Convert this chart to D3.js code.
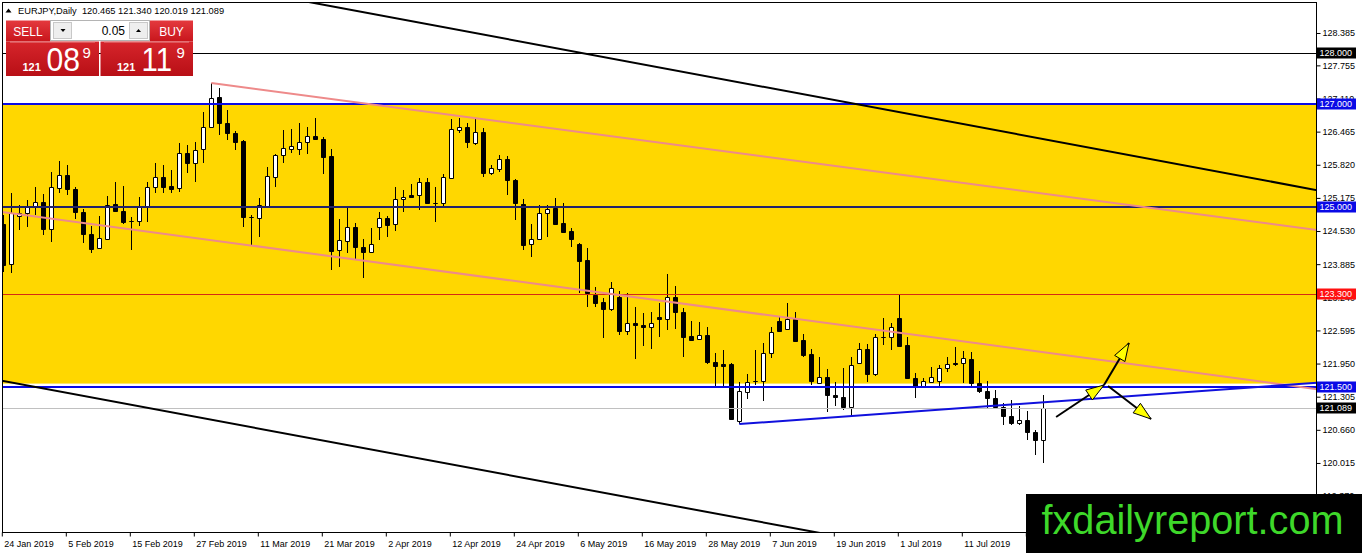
<!DOCTYPE html>
<html><head><meta charset="utf-8">
<script src="https://cdn.jsdelivr.net/npm/d3@7"></script>
<style>
html,body{margin:0;padding:0;background:#fff;overflow:hidden;}
svg{display:block;}
text{font-family:"Liberation Sans",Arial,sans-serif;}
</style></head><body>
<svg id="c" width="1362" height="553"></svg>
<script>
// ---------------- DATA ----------------
const symbolTitle = "EURJPY,Daily";
const lastOHLC = ["120.465","121.340","120.019","121.089"];

const opens = [124.666,123.888,124.822,124.875,125.003,125.095,124.569,125.367,125.620,125.348,
124.900,124.472,124.199,124.380,125.056,124.919,124.724,124.725,125.023,125.387,
125.587,125.406,125.367,126.049,125.860,126.126,126.561,127.145,126.639,126.444,
126.282,124.808,124.783,125.017,125.587,126.010,126.132,126.132,126.263,126.380,
126.315,125.990,124.160,124.341,124.608,124.225,124.127,124.614,124.783,124.666,
125.153,125.231,125.231,125.484,125.085,125.075,125.568,126.496,126.555,126.249,
126.463,125.659,125.737,125.932,125.523,125.056,124.277,124.374,124.881,124.978,
124.686,124.530,124.277,123.966,123.284,123.154,123.012,123.251,122.589,122.739,
122.700,122.667,122.862,122.811,123.245,122.959,122.486,122.434,122.506,121.986,
121.941,121.941,120.837,121.402,121.611,121.616,122.161,122.784,122.617,122.811,
122.408,122.136,121.565,121.694,121.338,121.305,121.098,121.966,122.227,121.746,
122.470,122.472,122.831,122.311,121.663,121.519,121.596,121.616,121.857,121.966,
121.955,122.033,121.565,121.415,121.273,121.110,120.929,120.798,120.851,120.623,
120.465];
const highs = [124.842,125.276,125.036,125.134,125.393,125.250,125.679,125.893,125.815,125.387,
124.958,124.627,124.822,125.212,125.484,125.406,124.808,125.198,125.484,125.860,
125.815,125.718,126.249,126.204,126.269,126.847,127.411,127.314,126.886,126.483,
126.300,124.842,125.173,125.776,126.030,126.496,126.516,126.633,126.561,126.730,
126.366,126.126,124.764,124.978,124.686,124.374,124.589,124.906,124.822,125.387,
125.328,125.445,125.562,125.562,125.387,125.640,126.710,126.730,126.633,126.710,
126.535,125.815,126.010,125.990,125.542,125.153,124.666,125.036,125.036,125.173,
125.075,124.589,124.290,124.199,123.446,123.226,123.543,123.368,123.329,123.051,
122.934,122.953,123.134,123.693,123.460,123.031,122.778,122.759,122.667,122.161,
122.214,121.961,121.596,121.746,122.214,122.356,122.667,122.862,123.134,122.959,
122.525,122.233,122.077,121.844,121.596,121.863,122.077,122.350,122.330,122.525,
122.831,122.745,123.284,122.472,121.771,121.669,121.888,121.922,122.083,122.266,
122.200,122.181,121.805,121.616,121.435,121.176,121.241,121.124,121.032,120.656,
121.340];
const lows = [123.732,123.718,124.550,124.608,124.842,124.452,124.316,125.276,125.231,124.764,
124.297,124.108,124.180,124.355,124.906,124.666,124.160,124.627,124.711,125.270,
125.270,125.276,125.295,125.659,125.490,125.854,126.535,126.399,126.302,126.107,
124.614,124.238,124.419,125.003,125.393,125.860,126.054,126.010,126.029,126.302,
125.634,123.771,123.835,124.102,123.985,123.615,124.102,124.355,124.419,124.536,
124.906,125.173,124.939,125.056,124.711,124.997,125.549,126.438,126.146,126.204,
125.587,125.620,125.685,125.231,124.744,124.160,124.030,124.360,124.419,124.647,
124.497,124.225,123.323,123.056,123.056,122.447,122.979,122.506,122.506,122.038,
122.292,122.233,122.472,122.603,122.617,122.083,122.400,122.408,121.941,121.513,
121.513,120.850,120.773,121.254,121.532,121.227,122.058,122.580,122.603,122.375,
122.083,121.532,121.552,121.013,121.124,121.045,120.929,121.941,121.596,121.708,
122.311,122.214,122.278,121.650,121.273,121.499,121.565,121.468,121.791,121.902,
121.565,121.468,121.371,121.079,121.098,120.754,120.754,120.754,120.462,120.170,
120.019];
const closes = [123.868,124.881,124.881,125.003,125.095,124.569,125.387,125.620,125.348,124.900,
124.472,124.180,124.394,125.036,124.919,124.711,124.720,125.023,125.387,125.587,
125.393,125.348,126.049,125.860,126.107,126.561,127.119,126.633,126.438,126.269,
124.808,124.800,125.036,125.601,126.010,126.146,126.185,126.263,126.380,126.315,
125.977,124.147,124.355,124.608,124.219,124.127,124.277,124.783,124.647,125.153,
125.198,125.192,125.484,125.081,125.078,125.581,126.516,126.555,126.269,126.463,
125.659,125.757,125.932,125.523,125.075,124.258,124.374,124.881,124.958,124.666,
124.517,124.374,123.952,123.323,123.134,123.012,123.421,122.589,122.739,122.700,
122.667,122.739,122.817,123.245,122.959,122.472,122.408,122.506,121.986,121.902,
121.902,120.864,121.421,121.596,121.618,122.161,122.570,122.589,122.811,122.395,
122.116,121.616,121.694,121.338,121.293,121.098,121.922,122.227,121.746,122.472,
122.476,122.656,122.292,121.663,121.499,121.610,121.682,121.857,121.941,121.941,
122.052,121.565,121.415,121.273,121.110,120.929,120.798,120.851,120.623,120.465,
121.089];

const dateTickIndex = [0,8,16,24,32,40,48,56,64,72,80,88,96,104,112,120,128];
const dateTickLabels = ["24 Jan 2019","5 Feb 2019","15 Feb 2019","27 Feb 2019","11 Mar 2019",
"21 Mar 2019","2 Apr 2019","12 Apr 2019","24 Apr 2019","6 May 2019","16 May 2019",
"28 May 2019","7 Jun 2019","19 Jun 2019","1 Jul 2019","11 Jul 2019","23 Jul 2019"];

const priceTicks = [128.385,127.755,127.110,126.465,125.820,125.175,124.530,123.885,
123.240,122.595,121.950,121.305,120.660,120.015,119.370];

const levelPrices = [128.000,127.000,125.000,123.300,121.500,121.089];
const zoneTop = 127.000, zoneBottom = 121.560;

// line objects: [barIndex, price] endpoints
const channelUpper = [[30,129.226],[165,125.303]];
const channelLower = [[-1,121.639],[110,118.423]];
const pinkUpper = [[26,127.411],[165,124.532]];
const pinkLower = [[-1,124.920],[165,121.435]];
const supportLine = [[92,120.773],[165,121.586]];
const arrowLines = [
  [[131.6,120.909],[137.59,121.532]],
  [[137.59,121.532],[140.71,122.350]],
  [[138.09,121.513],[143.47,120.870]]
];

const sellPrice = ["121","08","9"];
const buyPrice  = ["121","11","9"];
const lotSize = "0.05";
const logoText = "fxdailyreport.com";

// ---------------- LAYOUT ----------------
const W = 1362, H = 553;
const PL = 2.5, PT = 2.5, PR = 1316.5, PB = 532.5;
const svg = d3.select("#c");

const x = d3.scaleLinear().domain([0,130]).range([3.3,1043.3]);
const y = d3.scaleLinear().domain([118.671,128.969]).range([532,3]);

svg.append("rect").attr("width",W).attr("height",H).attr("fill","#fff");

const defs = svg.append("defs");
defs.append("clipPath").attr("id","plotclip").append("rect")
  .attr("x",PL).attr("y",PT).attr("width",PR-PL).attr("height",PB-PT);

const gradBtn = defs.append("linearGradient").attr("id","gBtn").attr("x1",0).attr("x2",0).attr("y1",0).attr("y2",1);
gradBtn.append("stop").attr("offset","0%").attr("stop-color","#e4393e");
gradBtn.append("stop").attr("offset","100%").attr("stop-color","#c8161c");
const gradBox = defs.append("linearGradient").attr("id","gBox").attr("x1",0).attr("x2",0).attr("y1",0).attr("y2",1);
gradBox.append("stop").attr("offset","0%").attr("stop-color","#d6252b");
gradBox.append("stop").attr("offset","100%").attr("stop-color","#b80f16");

const plot = svg.append("g").attr("clip-path","url(#plotclip)");

// yellow zone
plot.append("rect")
  .attr("x",PL).attr("width",PR-PL)
  .attr("y",y(zoneTop)).attr("height",y(zoneBottom)-y(zoneTop))
  .attr("fill","#ffd700");

// candles
const bars = d3.range(opens.length).map(i=>({i,o:opens[i],h:highs[i],l:lows[i],c:closes[i]}));
const cx = d=>Math.round(x(d.i))+0.5;
const cg = plot.append("g");
cg.selectAll("line").data(bars).join("line")
  .attr("x1",cx).attr("x2",cx)
  .attr("y1",d=>Math.round(y(d.h))).attr("y2",d=>Math.round(y(d.l)))
  .attr("stroke","#000").attr("stroke-width",1);
cg.selectAll("path").data(bars).join("path")
  .attr("d",d=>{
    const t = Math.round(y(Math.max(d.o,d.c)))+0.5;
    const b = Math.round(y(Math.min(d.o,d.c)))+0.5;
    const x0 = cx(d)-2, x1 = cx(d)+2;
    return `M${x0},${t}H${x1}V${b}H${x0}Z`;
  })
  .attr("fill",d=>d.c>d.o?"#fff":"#000")
  .attr("stroke","#000").attr("stroke-width",1);

// horizontal levels
const levelStroke = ["#000000","#0a0ae6","#22226a","#d42a14","#0a0ae6","#c0c0c0"];
const levelWidth  = [1,2,2,1,2,1];
const levelBox    = ["#000000","#0a0ae6","#0a0ae6","#ff1010","#0a0ae6","#000000"];
plot.append("g").selectAll("line").data(levelPrices).join("line")
  .attr("x1",PL).attr("x2",PR)
  .attr("y1",(d,i)=>levelWidth[i]===1?Math.round(y(d))+0.5:Math.round(y(d)))
  .attr("y2",(d,i)=>levelWidth[i]===1?Math.round(y(d))+0.5:Math.round(y(d)))
  .attr("stroke",(d,i)=>levelStroke[i]).attr("stroke-width",(d,i)=>levelWidth[i]);

// trend lines
const line = d3.line().x(d=>x(d[0])).y(d=>y(d[1]));
function drawLine(pts,color,w){
  plot.append("path").attr("d",line(pts)).attr("fill","none")
    .attr("stroke",color).attr("stroke-width",w);
}
drawLine(pinkUpper,"#ee8a8a",2);
drawLine(pinkLower,"#ee8a8a",2);
drawLine(channelUpper,"#000",2);
drawLine(channelLower,"#000",2);
drawLine(supportLine,"#1010dd",2);

// arrows
arrowLines.forEach(seg=>{
  const [p1,p2] = seg;
  const x1=x(p1[0]), y1=y(p1[1]), x2=x(p2[0]), y2=y(p2[1]);
  plot.append("line").attr("x1",x1).attr("y1",y1).attr("x2",x2).attr("y2",y2)
    .attr("stroke","#000").attr("stroke-width",2);
  const dx=x2-x1, dy=y2-y1, L=Math.hypot(dx,dy), ux=dx/L, uy=dy/L;
  const bx=x2-18*ux, by=y2-18*uy, nx=-uy, ny=ux;
  plot.append("polygon")
    .attr("points",[[x2,y2],[bx+6*nx,by+6*ny],[bx-6*nx,by-6*ny]].map(p=>p.join(",")).join(" "))
    .attr("fill","#ffff00").attr("stroke","#000").attr("stroke-width",1);
});

// frame
svg.append("rect").attr("x",PL).attr("y",PT).attr("width",PR-PL).attr("height",PB-PT)
  .attr("fill","none").attr("stroke","#000").attr("stroke-width",1);

// right axis
const ay = svg.append("g").attr("transform",`translate(${PR},0)`)
  .call(d3.axisRight(y).tickValues(priceTicks).tickSize(4).tickPadding(2).tickFormat(d3.format(".3f")));
ay.select(".domain").remove();
ay.selectAll("line").attr("stroke","#000");
ay.selectAll("text").attr("fill","#000").style("font-size","9px")
  .style("font-family","'Liberation Sans',Arial,sans-serif");

// bottom axis
const ax = svg.append("g").attr("transform",`translate(-1.5,${PB})`)
  .call(d3.axisBottom(x).tickValues(dateTickIndex).tickSize(4)
    .tickFormat((d,i)=>dateTickLabels[i]));
ax.select(".domain").remove();
ax.selectAll("line").attr("stroke","#000");
ax.selectAll("text").attr("fill","#000").attr("text-anchor","start")
  .attr("x",2).attr("y",14).attr("dy",null).style("font-size","9px")
  .style("font-family","'Liberation Sans',Arial,sans-serif");

// price label boxes
const lb = svg.append("g");
levelPrices.forEach((p,i)=>{
  const yy = Math.round(y(p));
  lb.append("rect").attr("x",1317).attr("y",yy-5.5).attr("width",39).attr("height",11)
    .attr("fill",levelBox[i]);
  lb.append("text").attr("x",1319.5).attr("y",yy).attr("dy","0.35em")
    .attr("fill","#fff").style("font-size","9px").text(d3.format(".3f")(p));
});

// header
svg.append("polygon").attr("points","5.5,12.5 8.5,8.5 11.5,12.5").attr("fill","#000");
svg.append("text").attr("x",18).attr("y",14).style("font-size","9.3px").attr("fill","#000")
  .attr("xml:space","preserve")
  .text(symbolTitle+"  "+lastOHLC.join(" "));

// trade panel
const tp = svg.append("g");
tp.append("rect").attr("x",6).attr("y",20.5).attr("width",44).attr("height",21).attr("fill","url(#gBtn)");
tp.append("text").attr("x",28).attr("y",35.5).attr("text-anchor","middle").attr("fill","#fff")
  .style("font-size","12px").text("SELL");
tp.append("rect").attr("x",150).attr("y",20.5).attr("width",43).attr("height",21).attr("fill","url(#gBtn)");
tp.append("text").attr("x",171.5).attr("y",35.5).attr("text-anchor","middle").attr("fill","#fff")
  .style("font-size","12px").text("BUY");
tp.append("rect").attr("x",50.5).attr("y",20.5).attr("width",99).attr("height",20).attr("fill","#fff").attr("stroke","#b4b4b4");
tp.append("rect").attr("x",53.5).attr("y",22.5).attr("width",18).attr("height",16).attr("fill","#eeeeee").attr("stroke","#c8c8c8");
tp.append("rect").attr("x",129.5).attr("y",22.5).attr("width",18).attr("height",16).attr("fill","#eeeeee").attr("stroke","#c8c8c8");
tp.append("polygon").attr("points","60.5,29 65.5,29 63,32").attr("fill","#000");
tp.append("polygon").attr("points","136,32 141,32 138.5,29").attr("fill","#000");
tp.append("text").attr("x",125).attr("y",35).attr("text-anchor","end").attr("fill","#000")
  .style("font-size","12px").text(lotSize);
tp.append("rect").attr("x",6).attr("y",41.5).attr("width",93).attr("height",34.5).attr("fill","url(#gBox)");
tp.append("rect").attr("x",100.5).attr("y",41.5).attr("width",92.5).attr("height",34.5).attr("fill","url(#gBox)");
tp.append("line").attr("x1",10).attr("x2",95).attr("y1",42).attr("y2",42).attr("stroke","#ea8a8c").attr("stroke-width",1);
tp.append("line").attr("x1",104).attr("x2",189).attr("y1",42).attr("y2",42).attr("stroke","#ea8a8c").attr("stroke-width",1);
function priceText(xs,parts){
  tp.append("text").attr("x",xs[0]).attr("y",70.5).attr("fill","#fff").style("font-size","11px")
    .style("font-weight","bold").text(parts[0]);
  tp.append("text").attr("x",xs[1]).attr("y",70.5).attr("fill","#fff").style("font-size","33px")
    .attr("textLength",xs[3]).attr("lengthAdjust","spacingAndGlyphs").text(parts[1]);
  tp.append("text").attr("x",xs[2]).attr("y",58).attr("fill","#fff").style("font-size","15px").text(parts[2]);
}
priceText([22.5,46.5,82.5,33.5],sellPrice);
priceText([117,141.5,176.5,30.5],buyPrice);

// logo
svg.append("rect").attr("x",1026).attr("y",494).attr("width",W-1026).attr("height",H-494).attr("fill","#000");
svg.append("text").attr("x",1041.5).attr("y",533.5).attr("fill","#3ed82a")
  .style("font-size","40px").attr("textLength",302).attr("lengthAdjust","spacingAndGlyphs")
  .text(logoText);
</script>
</body></html>
